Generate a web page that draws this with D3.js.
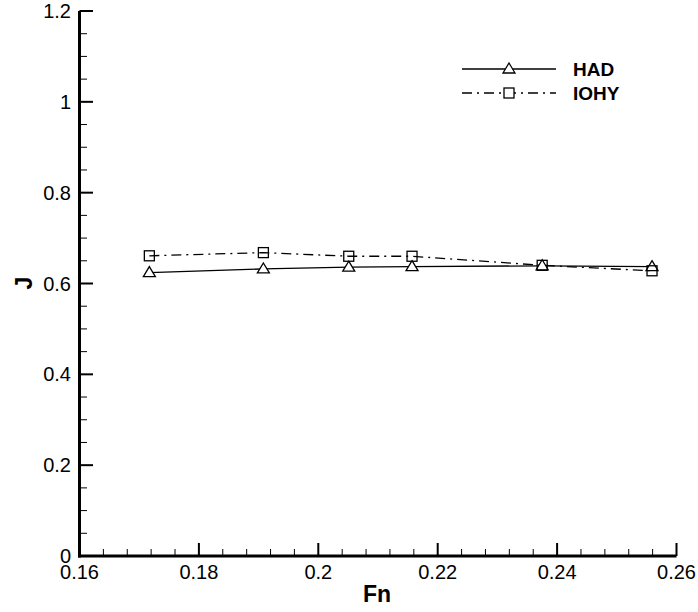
<!DOCTYPE html>
<html><head><meta charset="utf-8">
<script src="https://cdn.jsdelivr.net/npm/d3@7"></script>
<style>body{margin:0;background:#fff}</style>
</head><body><svg id="c" width="698" height="612"></svg>
<script>
const fnValues = [0.1717, 0.1908, 0.2051, 0.2157, 0.2375, 0.2559];
const hadValues = [0.624, 0.632, 0.636, 0.637, 0.639, 0.637];
const iohyValues = [0.661, 0.668, 0.660, 0.660, 0.640, 0.628];
const seriesNames = ["HAD", "IOHY"];
const xTicks = [0.16, 0.18, 0.2, 0.22, 0.24, 0.26];
const xTickLabels = ["0.16", "0.18", "0.2", "0.22", "0.24", "0.26"];
const yTicks = [0, 0.2, 0.4, 0.6, 0.8, 1, 1.2];
const yTickLabels = ["0", "0.2", "0.4", "0.6", "0.8", "1", "1.2"];

const svg = d3.select("#c");
const x = d3.scaleLinear().domain([0.16, 0.26]).range([79.5, 676.5]);
const y = d3.scaleLinear().domain([0, 1.2]).range([556, 11]);
const font = "Arial, 'Liberation Sans', sans-serif";

// minor ticks
const xMinor = d3.range(0.16, 0.2601, 0.004).filter(v => !xTicks.some(t => Math.abs(t - v) < 1e-6));
const yMinor = d3.range(0, 1.2001, 0.05).filter(v => !yTicks.some(t => Math.abs(t - v) < 1e-6));

const g = svg.append("g");
g.selectAll(".xm").data(xMinor).enter().append("line")
  .attr("x1", d => x(d)).attr("x2", d => x(d)).attr("y1", 556).attr("y2", 549)
  .attr("stroke", "#000").attr("stroke-width", 1);
g.selectAll(".xM").data(xTicks).enter().append("line")
  .attr("x1", d => x(d)).attr("x2", d => x(d)).attr("y1", 556).attr("y2", 543)
  .attr("stroke", "#000").attr("stroke-width", 2);
g.selectAll(".ym").data(yMinor).enter().append("line")
  .attr("y1", d => y(d)).attr("y2", d => y(d)).attr("x1", 79.5).attr("x2", 87)
  .attr("stroke", "#000").attr("stroke-width", 1);
g.selectAll(".yM").data(yTicks).enter().append("line")
  .attr("y1", d => y(d)).attr("y2", d => y(d)).attr("x1", 79.5).attr("x2", 93)
  .attr("stroke", "#000").attr("stroke-width", 2);

// axis lines
g.append("line").attr("x1", 79.5).attr("x2", 79.5).attr("y1", y(1.2)).attr("y2", 557.5)
  .attr("stroke", "#000").attr("stroke-width", 3);
g.append("line").attr("x1", 78).attr("x2", x(0.26)).attr("y1", 556).attr("y2", 556)
  .attr("stroke", "#000").attr("stroke-width", 3);

// tick labels
g.selectAll(".xl").data(xTicks).enter().append("text")
  .attr("x", d => x(d)).attr("y", 579).attr("text-anchor", "middle")
  .attr("font-family", font).attr("font-size", 20).text((d, i) => xTickLabels[i]);
g.selectAll(".yl").data(yTicks).enter().append("text")
  .attr("x", 71).attr("y", d => y(d) + 7).attr("text-anchor", "end")
  .attr("font-family", font).attr("font-size", 20).text((d, i) => yTickLabels[i]);

// axis titles
svg.append("text").attr("x", 377).attr("y", 602).attr("text-anchor", "middle")
  .attr("font-family", font).attr("font-weight", "bold").attr("font-size", 23).text("Fn");
svg.append("text").attr("transform", "translate(32,283) rotate(-90)").attr("text-anchor", "middle")
  .attr("font-family", font).attr("font-weight", "bold").attr("font-size", 23).text("J");

// series
const line = vals => d3.line().x((d, i) => x(fnValues[i])).y(d => y(d))(vals);
svg.append("path").attr("d", line(hadValues)).attr("fill", "none").attr("stroke", "#000").attr("stroke-width", 1.3);
svg.append("path").attr("d", line(iohyValues)).attr("fill", "none").attr("stroke", "#000").attr("stroke-width", 1.3)
  .attr("stroke-dasharray", "10,5,2,5");

const tri = d3.symbol().type(d3.symbolTriangle).size(70);
const drawTri = (sel, cx, cy) => sel.append("path").attr("d", "M0,-6L6,4L-6,4Z")
  .attr("transform", `translate(${cx},${cy})`).attr("fill", "#fff").attr("stroke", "#000").attr("stroke-width", 1.3);
const drawSq = (sel, cx, cy) => sel.append("rect").attr("x", cx - 5).attr("y", cy - 5).attr("width", 10).attr("height", 10)
  .attr("fill", "none").attr("stroke", "#000").attr("stroke-width", 1.3);

hadValues.forEach((v, i) => drawTri(svg, x(fnValues[i]), y(v)));
iohyValues.forEach((v, i) => drawSq(svg, x(fnValues[i]), y(v)));

// legend
const lg = svg.append("g");
lg.append("line").attr("x1", 462).attr("x2", 556).attr("y1", 69).attr("y2", 69).attr("stroke", "#000").attr("stroke-width", 1.3);
drawTri(lg, 509, 69);
lg.append("line").attr("x1", 462).attr("x2", 556).attr("y1", 93).attr("y2", 93).attr("stroke", "#000").attr("stroke-width", 1.3)
  .attr("stroke-dasharray", "10,5,2,5");
lg.append("rect").attr("x", 504).attr("y", 88).attr("width", 10).attr("height", 10).attr("fill", "#fff").attr("stroke", "none");
drawSq(lg, 509, 93);
lg.append("text").attr("x", 573).attr("y", 76).attr("font-family", font).attr("font-weight", "bold").attr("font-size", 19).text(seriesNames[0]);
lg.append("text").attr("x", 573).attr("y", 100).attr("font-family", font).attr("font-weight", "bold").attr("font-size", 19).text(seriesNames[1]);
</script></body></html>
